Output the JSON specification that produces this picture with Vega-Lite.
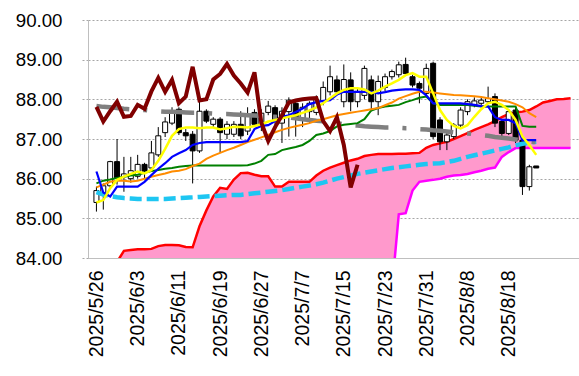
{
  "$schema": "https://vega.github.io/schema/vega-lite/v6.json",
  "width": 491,
  "height": 238,
  "autosize": {"type": "none"},
  "padding": {"left": 88, "top": 20, "right": 0, "bottom": 118},
  "background": "white",
  "config": {
    "view": {"stroke": null},
    "font": "Liberation Sans",
    "axis": {"labelFont": "Liberation Sans", "labelColor": "#000000", "title": null},
    "axisY": {"values": [84, 85, 86, 87, 88, 89, 90], "format": ".2f", "labelFontSize": 18.7,
      "grid": true, "gridDash": [2, 2], "gridColor": "#A6A6A6", "gridWidth": 1,
      "ticks": true, "tickSize": 6, "tickDash": [2, 2], "tickColor": "#A6A6A6",
      "domainColor": "#BFBFBF", "labelPadding": 20, "title": null}
  },
  "data": {"values": [
    {"i":0,"date":"2025/5/26","o":85.40,"h":85.80,"l":85.17,"c":85.70,"ma5":85.40,"tenkan":86.18,"kijun":85.88,"ma25":85.78,"lineCyan":85.66,"lineGray":87.83,"chikou":87.81,"spanA":83.3,"spanB":83.2},
    {"i":1,"date":"2025/5/27","o":85.62,"h":85.88,"l":85.22,"c":85.82,"ma5":85.46,"tenkan":85.65,"kijun":85.95,"ma25":85.85,"lineCyan":85.60,"lineGray":87.81,"chikou":87.44,"spanA":83.5,"spanB":83.2},
    {"i":2,"date":"2025/5/28","o":85.82,"h":86.45,"l":85.78,"c":86.43,"ma5":85.76,"tenkan":85.55,"kijun":85.98,"ma25":85.92,"lineCyan":85.56,"lineGray":87.80,"chikou":87.70,"spanA":83.7,"spanB":83.2},
    {"i":3,"date":"2025/5/29","o":86.43,"h":87.00,"l":85.85,"c":86.02,"ma5":85.97,"tenkan":85.80,"kijun":86.02,"ma25":85.95,"lineCyan":85.53,"lineGray":87.78,"chikou":87.94,"spanA":83.9,"spanB":83.2},
    {"i":4,"date":"2025/5/30","o":86.05,"h":86.55,"l":85.67,"c":86.12,"ma5":86.05,"tenkan":85.80,"kijun":86.05,"ma25":85.95,"lineCyan":85.51,"lineGray":87.76,"chikou":87.56,"spanA":84.18,"spanB":83.2},
    {"i":5,"date":"2025/6/2","o":86.00,"h":86.55,"l":85.90,"c":86.20,"ma5":86.12,"tenkan":85.80,"kijun":86.08,"ma25":85.93,"lineCyan":85.50,"lineGray":87.75,"chikou":87.58,"spanA":84.20,"spanB":83.2},
    {"i":6,"date":"2025/6/3","o":86.06,"h":86.60,"l":86.00,"c":86.36,"ma5":86.18,"tenkan":85.80,"kijun":86.10,"ma25":85.95,"lineCyan":85.49,"lineGray":87.74,"chikou":87.86,"spanA":84.22,"spanB":83.2},
    {"i":7,"date":"2025/6/4","o":86.36,"h":86.40,"l":86.00,"c":86.19,"ma5":86.13,"tenkan":85.92,"kijun":86.15,"ma25":86.00,"lineCyan":85.49,"lineGray":87.73,"chikou":87.76,"spanA":84.22,"spanB":83.2},
    {"i":8,"date":"2025/6/5","o":86.27,"h":86.95,"l":86.20,"c":86.65,"ma5":86.22,"tenkan":86.09,"kijun":86.19,"ma25":86.05,"lineCyan":85.49,"lineGray":87.71,"chikou":88.20,"spanA":84.23,"spanB":83.2},
    {"i":9,"date":"2025/6/6","o":86.60,"h":87.30,"l":86.55,"c":87.08,"ma5":86.45,"tenkan":86.25,"kijun":86.22,"ma25":86.09,"lineCyan":85.49,"lineGray":87.70,"chikou":88.54,"spanA":84.30,"spanB":83.2},
    {"i":10,"date":"2025/6/9","o":87.16,"h":87.55,"l":87.05,"c":87.43,"ma5":86.75,"tenkan":86.39,"kijun":86.25,"ma25":86.13,"lineCyan":85.49,"lineGray":87.69,"chikou":88.19,"spanA":84.33,"spanB":83.2},
    {"i":11,"date":"2025/6/10","o":87.40,"h":87.80,"l":87.35,"c":87.65,"ma5":87.08,"tenkan":86.55,"kijun":86.27,"ma25":86.18,"lineCyan":85.50,"lineGray":87.69,"chikou":88.49,"spanA":84.33,"spanB":83.2},
    {"i":12,"date":"2025/6/11","o":87.75,"h":87.80,"l":87.10,"c":87.16,"ma5":87.25,"tenkan":86.64,"kijun":86.30,"ma25":86.20,"lineCyan":85.51,"lineGray":87.68,"chikou":87.90,"spanA":84.32,"spanB":83.2},
    {"i":13,"date":"2025/6/12","o":87.16,"h":87.25,"l":86.95,"c":87.08,"ma5":87.29,"tenkan":86.72,"kijun":86.32,"ma25":86.24,"lineCyan":85.52,"lineGray":87.67,"chikou":88.07,"spanA":84.28,"spanB":83.2},
    {"i":14,"date":"2025/6/13","o":87.12,"h":87.20,"l":85.88,"c":86.70,"ma5":87.29,"tenkan":86.85,"kijun":86.33,"ma25":86.32,"lineCyan":85.53,"lineGray":87.66,"chikou":88.82,"spanA":84.27,"spanB":83.2},
    {"i":15,"date":"2025/6/16","o":86.70,"h":87.96,"l":86.65,"c":87.70,"ma5":87.27,"tenkan":86.90,"kijun":86.33,"ma25":86.38,"lineCyan":85.54,"lineGray":87.66,"chikou":87.97,"spanA":84.80,"spanB":83.2},
    {"i":16,"date":"2025/6/17","o":87.70,"h":87.75,"l":87.40,"c":87.45,"ma5":87.29,"tenkan":86.92,"kijun":86.33,"ma25":86.50,"lineCyan":85.55,"lineGray":87.65,"chikou":88.00,"spanA":85.20,"spanB":83.2},
    {"i":17,"date":"2025/6/18","o":87.37,"h":87.55,"l":87.30,"c":87.50,"ma5":87.29,"tenkan":86.92,"kijun":86.33,"ma25":86.58,"lineCyan":85.56,"lineGray":87.64,"chikou":88.50,"spanA":85.55,"spanB":83.2},
    {"i":18,"date":"2025/6/19","o":87.50,"h":87.55,"l":86.65,"c":87.16,"ma5":87.24,"tenkan":86.92,"kijun":86.33,"ma25":86.65,"lineCyan":85.57,"lineGray":87.63,"chikou":88.64,"spanA":85.77,"spanB":83.2},
    {"i":19,"date":"2025/6/20","o":87.12,"h":87.45,"l":87.00,"c":87.37,"ma5":87.27,"tenkan":86.92,"kijun":86.33,"ma25":86.72,"lineCyan":85.58,"lineGray":87.63,"chikou":88.89,"spanA":85.74,"spanB":83.2},
    {"i":20,"date":"2025/6/23","o":87.12,"h":87.45,"l":87.05,"c":87.37,"ma5":87.31,"tenkan":86.92,"kijun":86.33,"ma25":86.78,"lineCyan":85.59,"lineGray":87.62,"chikou":88.60,"spanA":85.98,"spanB":83.2},
    {"i":21,"date":"2025/6/24","o":87.37,"h":87.70,"l":87.00,"c":87.08,"ma5":87.30,"tenkan":86.92,"kijun":86.33,"ma25":86.85,"lineCyan":85.59,"lineGray":87.61,"chikou":88.40,"spanA":86.14,"spanB":83.2},
    {"i":22,"date":"2025/6/25","o":87.20,"h":87.80,"l":87.10,"c":87.60,"ma5":87.29,"tenkan":86.95,"kijun":86.34,"ma25":86.92,"lineCyan":85.61,"lineGray":87.60,"chikou":88.17,"spanA":86.15,"spanB":83.2},
    {"i":23,"date":"2025/6/26","o":87.67,"h":87.75,"l":87.30,"c":87.37,"ma5":87.33,"tenkan":87.25,"kijun":86.38,"ma25":86.98,"lineCyan":85.63,"lineGray":87.59,"chikou":88.68,"spanA":86.10,"spanB":83.2},
    {"i":24,"date":"2025/6/27","o":87.35,"h":87.75,"l":87.20,"c":87.65,"ma5":87.37,"tenkan":87.33,"kijun":86.45,"ma25":87.04,"lineCyan":85.65,"lineGray":87.58,"chikou":87.41,"spanA":86.06,"spanB":83.2},
    {"i":25,"date":"2025/6/30","o":87.67,"h":87.96,"l":87.60,"c":87.83,"ma5":87.44,"tenkan":87.35,"kijun":86.60,"ma25":87.10,"lineCyan":85.67,"lineGray":87.57,"chikou":86.95,"spanA":86.06,"spanB":83.2},
    {"i":26,"date":"2025/7/1","o":87.79,"h":87.85,"l":87.30,"c":87.45,"ma5":87.48,"tenkan":87.45,"kijun":86.62,"ma25":87.17,"lineCyan":85.69,"lineGray":87.56,"chikou":87.30,"spanA":85.80,"spanB":83.2},
    {"i":27,"date":"2025/7/2","o":87.40,"h":87.80,"l":86.90,"c":87.70,"ma5":87.52,"tenkan":87.56,"kijun":86.72,"ma25":87.23,"lineCyan":85.71,"lineGray":87.55,"chikou":87.60,"spanA":85.80,"spanB":83.2},
    {"i":28,"date":"2025/7/3","o":87.69,"h":88.05,"l":87.06,"c":87.98,"ma5":87.56,"tenkan":87.60,"kijun":86.76,"ma25":87.28,"lineCyan":85.74,"lineGray":87.54,"chikou":87.92,"spanA":85.92,"spanB":83.2},
    {"i":29,"date":"2025/7/4","o":87.90,"h":88.00,"l":87.06,"c":87.52,"ma5":87.60,"tenkan":87.68,"kijun":86.80,"ma25":87.32,"lineCyan":85.77,"lineGray":87.52,"chikou":87.97,"spanA":85.92,"spanB":83.2},
    {"i":30,"date":"2025/7/7","o":87.52,"h":87.90,"l":87.30,"c":87.80,"ma5":87.66,"tenkan":87.77,"kijun":86.85,"ma25":87.36,"lineCyan":85.80,"lineGray":87.50,"chikou":88.00,"spanA":85.92,"spanB":83.2},
    {"i":31,"date":"2025/7/8","o":87.69,"h":87.95,"l":87.40,"c":87.90,"ma5":87.72,"tenkan":87.88,"kijun":86.95,"ma25":87.40,"lineCyan":85.83,"lineGray":87.48,"chikou":88.02,"spanA":85.92,"spanB":83.2},
    {"i":32,"date":"2025/7/9","o":87.67,"h":88.10,"l":87.60,"c":88.00,"ma5":87.80,"tenkan":87.93,"kijun":87.10,"ma25":87.46,"lineCyan":85.86,"lineGray":87.46,"chikou":88.03,"spanA":86.08,"spanB":83.2},
    {"i":33,"date":"2025/7/10","o":87.95,"h":88.45,"l":87.85,"c":88.30,"ma5":87.90,"tenkan":87.96,"kijun":87.14,"ma25":87.50,"lineCyan":85.90,"lineGray":87.45,"chikou":87.45,"spanA":86.20,"spanB":83.2},
    {"i":34,"date":"2025/7/11","o":88.19,"h":88.85,"l":88.10,"c":88.57,"ma5":88.03,"tenkan":87.98,"kijun":87.20,"ma25":87.55,"lineCyan":85.95,"lineGray":87.43,"chikou":87.20,"spanA":86.28,"spanB":83.2},
    {"i":35,"date":"2025/7/14","o":88.49,"h":88.60,"l":88.10,"c":88.19,"ma5":88.15,"tenkan":88.12,"kijun":87.32,"ma25":87.60,"lineCyan":86.00,"lineGray":87.40,"chikou":87.55,"spanA":86.34,"spanB":83.2},
    {"i":36,"date":"2025/7/15","o":87.94,"h":88.88,"l":87.80,"c":88.50,"ma5":88.24,"tenkan":88.19,"kijun":87.36,"ma25":87.63,"lineCyan":86.04,"lineGray":87.37,"chikou":86.85,"spanA":86.40,"spanB":83.2},
    {"i":37,"date":"2025/7/16","o":88.49,"h":88.68,"l":87.70,"c":87.94,"ma5":88.28,"tenkan":88.19,"kijun":87.38,"ma25":87.66,"lineCyan":86.08,"lineGray":87.35,"chikou":85.78,"spanA":86.46,"spanB":83.2},
    {"i":38,"date":"2025/7/17","o":87.94,"h":88.30,"l":87.80,"c":88.20,"ma5":88.28,"tenkan":88.19,"kijun":87.40,"ma25":87.69,"lineCyan":86.12,"lineGray":87.34,"chikou":86.35,"spanA":86.50,"spanB":83.2},
    {"i":39,"date":"2025/7/18","o":88.10,"h":88.85,"l":88.00,"c":88.78,"ma5":88.25,"tenkan":88.19,"kijun":87.50,"ma25":87.72,"lineCyan":86.15,"lineGray":87.32,"chikou":null,"spanA":86.57,"spanB":83.2},
    {"i":40,"date":"2025/7/21","o":88.49,"h":88.60,"l":87.70,"c":87.94,"ma5":88.15,"tenkan":88.19,"kijun":87.72,"ma25":87.75,"lineCyan":86.18,"lineGray":87.31,"chikou":null,"spanA":86.60,"spanB":83.2},
    {"i":41,"date":"2025/7/22","o":87.94,"h":88.60,"l":87.60,"c":88.45,"ma5":88.22,"tenkan":88.15,"kijun":87.78,"ma25":87.78,"lineCyan":86.21,"lineGray":87.30,"chikou":null,"spanA":86.62,"spanB":83.2},
    {"i":42,"date":"2025/7/23","o":88.30,"h":88.65,"l":88.20,"c":88.57,"ma5":88.32,"tenkan":88.18,"kijun":87.82,"ma25":87.85,"lineCyan":86.24,"lineGray":87.29,"chikou":null,"spanA":86.62,"spanB":83.2},
    {"i":43,"date":"2025/7/24","o":88.57,"h":88.75,"l":88.50,"c":88.70,"ma5":88.40,"tenkan":88.22,"kijun":87.84,"ma25":87.92,"lineCyan":86.27,"lineGray":87.29,"chikou":null,"spanA":86.62,"spanB":83.2},
    {"i":44,"date":"2025/7/25","o":88.62,"h":88.95,"l":88.55,"c":88.87,"ma5":88.49,"tenkan":88.24,"kijun":87.86,"ma25":88.02,"lineCyan":86.29,"lineGray":87.28,"chikou":null,"spanA":86.63,"spanB":85.10},
    {"i":45,"date":"2025/7/28","o":88.88,"h":89.05,"l":88.60,"c":88.65,"ma5":88.61,"tenkan":88.25,"kijun":87.93,"ma25":88.08,"lineCyan":86.31,"lineGray":87.27,"chikou":null,"spanA":86.63,"spanB":85.13},
    {"i":46,"date":"2025/7/29","o":88.57,"h":88.62,"l":88.30,"c":88.36,"ma5":88.66,"tenkan":88.25,"kijun":87.98,"ma25":88.14,"lineCyan":86.33,"lineGray":87.27,"chikou":null,"spanA":86.64,"spanB":85.70},
    {"i":47,"date":"2025/7/30","o":88.40,"h":88.45,"l":87.90,"c":88.28,"ma5":88.57,"tenkan":88.24,"kijun":88.04,"ma25":88.19,"lineCyan":86.35,"lineGray":87.25,"chikou":null,"spanA":86.65,"spanB":85.92},
    {"i":48,"date":"2025/7/31","o":88.15,"h":88.90,"l":88.10,"c":88.78,"ma5":88.57,"tenkan":88.10,"kijun":88.07,"ma25":88.19,"lineCyan":86.37,"lineGray":87.24,"chikou":null,"spanA":86.78,"spanB":85.95},
    {"i":49,"date":"2025/8/1","o":88.91,"h":88.95,"l":87.00,"c":87.06,"ma5":88.15,"tenkan":87.90,"kijun":87.90,"ma25":88.17,"lineCyan":86.38,"lineGray":87.22,"chikou":null,"spanA":86.85,"spanB":85.97},
    {"i":50,"date":"2025/8/4","o":87.48,"h":87.55,"l":86.72,"c":86.93,"ma5":87.73,"tenkan":87.90,"kijun":87.86,"ma25":88.15,"lineCyan":86.39,"lineGray":87.21,"chikou":null,"spanA":86.89,"spanB":86.00},
    {"i":51,"date":"2025/8/5","o":86.93,"h":87.15,"l":86.72,"c":87.10,"ma5":87.48,"tenkan":87.90,"kijun":87.86,"ma25":88.13,"lineCyan":86.42,"lineGray":87.19,"chikou":null,"spanA":86.93,"spanB":86.05},
    {"i":52,"date":"2025/8/6","o":87.06,"h":87.40,"l":87.00,"c":87.35,"ma5":87.33,"tenkan":87.90,"kijun":87.86,"ma25":88.11,"lineCyan":86.45,"lineGray":87.17,"chikou":null,"spanA":87.00,"spanB":86.08},
    {"i":53,"date":"2025/8/7","o":87.35,"h":87.80,"l":87.30,"c":87.73,"ma5":87.27,"tenkan":87.90,"kijun":87.86,"ma25":88.10,"lineCyan":86.50,"lineGray":87.15,"chikou":null,"spanA":87.07,"spanB":86.09},
    {"i":54,"date":"2025/8/8","o":87.69,"h":88.00,"l":87.60,"c":87.94,"ma5":87.35,"tenkan":87.88,"kijun":87.86,"ma25":88.09,"lineCyan":86.55,"lineGray":87.14,"chikou":null,"spanA":87.15,"spanB":86.12},
    {"i":55,"date":"2025/8/11","o":87.86,"h":88.05,"l":87.80,"c":87.96,"ma5":87.56,"tenkan":87.86,"kijun":87.84,"ma25":88.08,"lineCyan":86.59,"lineGray":87.12,"chikou":null,"spanA":87.23,"spanB":86.16},
    {"i":56,"date":"2025/8/12","o":87.90,"h":88.05,"l":87.85,"c":87.98,"ma5":87.75,"tenkan":87.83,"kijun":87.82,"ma25":88.06,"lineCyan":86.63,"lineGray":87.10,"chikou":null,"spanA":87.30,"spanB":86.20},
    {"i":57,"date":"2025/8/13","o":87.94,"h":88.32,"l":87.90,"c":88.02,"ma5":87.90,"tenkan":87.82,"kijun":87.82,"ma25":88.03,"lineCyan":86.67,"lineGray":87.08,"chikou":null,"spanA":87.37,"spanB":86.25},
    {"i":58,"date":"2025/8/14","o":88.07,"h":88.15,"l":87.30,"c":87.40,"ma5":87.94,"tenkan":87.55,"kijun":87.82,"ma25":88.00,"lineCyan":86.71,"lineGray":87.05,"chikou":null,"spanA":87.45,"spanB":86.28},
    {"i":59,"date":"2025/8/15","o":87.44,"h":87.50,"l":87.05,"c":87.14,"ma5":87.86,"tenkan":87.48,"kijun":87.82,"ma25":87.97,"lineCyan":86.75,"lineGray":87.03,"chikou":null,"spanA":87.55,"spanB":86.55},
    {"i":60,"date":"2025/8/18","o":87.14,"h":87.75,"l":87.10,"c":87.69,"ma5":87.73,"tenkan":87.48,"kijun":87.82,"ma25":87.94,"lineCyan":86.79,"lineGray":87.01,"chikou":null,"spanA":87.63,"spanB":86.67},
    {"i":61,"date":"2025/8/19","o":87.73,"h":87.80,"l":86.90,"c":86.97,"ma5":87.48,"tenkan":87.40,"kijun":87.82,"ma25":87.88,"lineCyan":86.84,"lineGray":86.99,"chikou":null,"spanA":87.67,"spanB":86.77},
    {"i":62,"date":"2025/8/20","o":86.97,"h":87.00,"l":85.59,"c":85.80,"ma5":87.06,"tenkan":86.97,"kijun":87.33,"ma25":87.80,"lineCyan":86.88,"lineGray":86.97,"chikou":null,"spanA":87.69,"spanB":86.77},
    {"i":63,"date":"2025/8/21","o":85.80,"h":86.35,"l":85.70,"c":86.30,"ma5":86.85,"tenkan":86.97,"kijun":87.31,"ma25":87.65,"lineCyan":86.91,"lineGray":86.94,"chikou":null,"spanA":87.73,"spanB":86.77},
    {"i":64,"date":"2025/8/22","o":86.32,"h":86.32,"l":86.27,"c":86.27,"ma5":86.60,"tenkan":86.97,"kijun":87.31,"ma25":87.55,"lineCyan":86.93,"lineGray":86.92,"chikou":null,"spanA":87.82,"spanB":86.77},
    {"i":65,"date":"2025/8/25","o":null,"h":null,"l":null,"c":null,"ma5":null,"tenkan":null,"kijun":null,"ma25":null,"lineCyan":null,"lineGray":null,"chikou":null,"spanA":87.92,"spanB":86.77},
    {"i":66,"date":"2025/8/26","o":null,"h":null,"l":null,"c":null,"ma5":null,"tenkan":null,"kijun":null,"ma25":null,"lineCyan":null,"lineGray":null,"chikou":null,"spanA":87.96,"spanB":86.77},
    {"i":67,"date":"2025/8/27","o":null,"h":null,"l":null,"c":null,"ma5":null,"tenkan":null,"kijun":null,"ma25":null,"lineCyan":null,"lineGray":null,"chikou":null,"spanA":88.00,"spanB":86.77},
    {"i":68,"date":"2025/8/28","o":null,"h":null,"l":null,"c":null,"ma5":null,"tenkan":null,"kijun":null,"ma25":null,"lineCyan":null,"lineGray":null,"chikou":null,"spanA":88.01,"spanB":86.77},
    {"i":69,"date":"2025/8/29","o":null,"h":null,"l":null,"c":null,"ma5":null,"tenkan":null,"kijun":null,"ma25":null,"lineCyan":null,"lineGray":null,"chikou":null,"spanA":88.03,"spanB":86.77}
  ]},
  "encoding": {
    "x": {
      "field": "i", "type": "quantitative",
      "scale": {"domain": [-0.5, 69.5], "nice": false, "zero": false},
      "axis": {
        "values": [0, 6, 12, 18, 24, 30, 36, 42, 48, 54, 60],
        "labelExpr": "['2025/5/26','2025/6/3','2025/6/11','2025/6/19','2025/6/27','2025/7/7','2025/7/15','2025/7/23','2025/7/31','2025/8/8','2025/8/18'][round(datum.value/6)]",
        "labelAngle": -90, "labelFontSize": 19.5, "labelPadding": 12,
        "ticks": false, "grid": false, "domainColor": "#BFBFBF", "domainWidth": 1,
        "labelOverlap": false, "title": null
      }
    }
  },
  "layer": [
    {
      "mark": {"type": "area", "color": "#FF99CC", "opacity": 1, "clip": true},
      "encoding": {
        "y": {"field": "spanA", "type": "quantitative", "title": null,
          "scale": {"domain": [84, 90], "nice": false, "zero": false}},
        "y2": {"field": "spanB"}
      }
    },
    {
      "mark": {"type": "line", "color": "#FF0000", "strokeWidth": 2.5, "clip": true},
      "encoding": {"y": {"field": "spanA", "type": "quantitative", "title": null}}
    },
    {
      "mark": {"type": "line", "color": "#FF00FF", "strokeWidth": 2.5, "clip": true},
      "encoding": {"y": {"field": "spanB", "type": "quantitative", "title": null}}
    },
    {
      "transform": [{"filter": "isValid(datum.c)"}],
      "mark": {"type": "rule", "color": "#000000", "strokeWidth": 1},
      "encoding": {
        "y": {"field": "l", "type": "quantitative", "title": null},
        "y2": {"field": "h"}
      }
    },
    {
      "transform": [{"filter": "isValid(datum.c)"}],
      "mark": {"type": "bar", "width": 5, "stroke": "#000000", "strokeWidth": 1},
      "encoding": {
        "y": {"field": "o", "type": "quantitative", "title": null},
        "y2": {"field": "c"},
        "fill": {"condition": {"test": "datum.c >= datum.o", "value": "#FFFFFF"}, "value": "#000000"}
      }
    },
    {
      "mark": {"type": "line", "color": "#1EC6F2", "strokeWidth": 4.5, "strokeDash": [12, 5], "clip": true},
      "encoding": {"y": {"field": "lineCyan", "type": "quantitative", "title": null}}
    },
    {
      "mark": {"type": "line", "color": "#808080", "strokeWidth": 4.5, "strokeDash": [33, 14, 4, 14], "clip": true},
      "encoding": {"y": {"field": "lineGray", "type": "quantitative", "title": null}}
    },
    {
      "mark": {"type": "line", "color": "#008000", "strokeWidth": 2, "clip": true},
      "encoding": {"y": {"field": "kijun", "type": "quantitative", "title": null}}
    },
    {
      "mark": {"type": "line", "color": "#FF8C00", "strokeWidth": 2, "clip": true},
      "encoding": {"y": {"field": "ma25", "type": "quantitative", "title": null}}
    },
    {
      "mark": {"type": "line", "color": "#0000FF", "strokeWidth": 2.2, "clip": true},
      "encoding": {"y": {"field": "tenkan", "type": "quantitative", "title": null}}
    },
    {
      "mark": {"type": "line", "color": "#FFFF00", "strokeWidth": 2.5, "clip": true},
      "encoding": {"y": {"field": "ma5", "type": "quantitative", "title": null}}
    },
    {
      "mark": {"type": "line", "color": "#800000", "strokeWidth": 4, "clip": true},
      "encoding": {"y": {"field": "chikou", "type": "quantitative", "title": null}}
    }
  ]
}
